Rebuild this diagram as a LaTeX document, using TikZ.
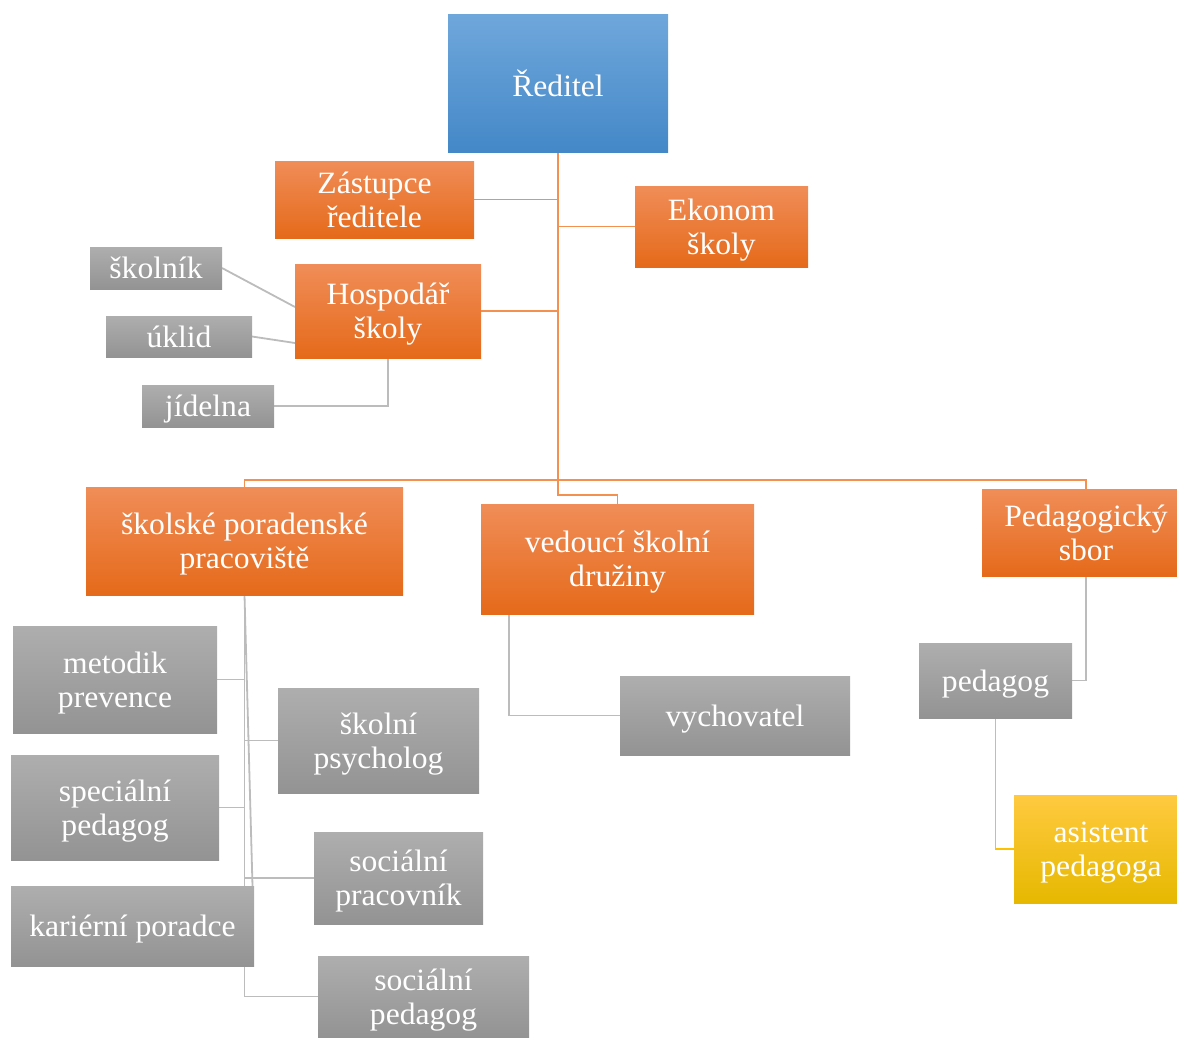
\documentclass[tikz,border=0pt]{standalone}
\usepackage{fontspec}
\setmainfont{Liberation Serif}[FakeStretch=1.02]
\usetikzlibrary{backgrounds}
\definecolor{oTop}{RGB}{240,141,88}
\definecolor{oMid}{RGB}{243,124,42}
\definecolor{oBot}{RGB}{229,106,26}
\definecolor{bTop}{RGB}{111,167,219}
\definecolor{bMid}{RGB}{88,157,219}
\definecolor{bBot}{RGB}{68,136,200}
\definecolor{gTop}{RGB}{174,174,174}
\definecolor{gBot}{RGB}{147,147,147}
\definecolor{yTop}{RGB}{255,202,64}
\definecolor{yMid}{RGB}{255,196,0}
\definecolor{yBot}{RGB}{230,184,0}
\definecolor{oLine}{RGB}{244,145,80}
\definecolor{gLine}{RGB}{188,188,188}
\definecolor{yLine}{RGB}{255,192,0}
\tikzset{
  box/.style={rectangle, inner sep=0pt, outer sep=0pt, text=white, align=center,
    text depth=0pt, font=\fontsize{31}{34}\selectfont},
  obox/.style={box, top color=oTop, middle color=oMid, bottom color=oBot},
  bbox/.style={box, top color=bTop, middle color=bMid, bottom color=bBot},
  gbox/.style={box, top color=gTop, bottom color=gBot},
  ybox/.style={box, top color=yTop, middle color=yMid, bottom color=yBot},
  oline/.style={draw=oLine, line width=1.8pt},
  gline/.style={draw=gLine, line width=1.8pt},
  yline/.style={draw=yLine, line width=1.8pt},
}
\begin{document}
\begin{tikzpicture}[x=1pt,y=-1pt]
\useasboundingbox (0,0) rectangle (1177,1037);
\clip (0,0) rectangle (1177,1037);
\node[bbox, minimum width=220pt, minimum height=138pt] (red) at (558,83) {Ředitel};
\node[obox, minimum width=199pt, minimum height=77pt] (zast) at (374.5,199.5) {Zástupce\\ředitele};
\node[obox, minimum width=173pt, minimum height=81pt] (ekon) at (721.5,226.5) {Ekonom\\školy};
\node[obox, minimum width=186pt, minimum height=94pt] (hosp) at (388,311) {Hospodář\\školy};
\node[gbox, minimum width=132pt, minimum height=42pt] (skolnik) at (156,268) {školník};
\node[gbox, minimum width=146pt, minimum height=41pt] (uklid) at (179,336.5) {úklid};
\node[gbox, minimum width=132pt, minimum height=42pt] (jid) at (208,406) {jídelna};
\node[obox, minimum width=317pt, minimum height=108pt] (skol) at (244.5,541) {školské poradenské\\pracoviště};
\node[obox, minimum width=273pt, minimum height=110pt] (ved) at (617.5,559) {vedoucí školní\\družiny};
\node[obox, minimum width=208pt, minimum height=87pt] (ped) at (1086,532.5) {Pedagogický\\sbor};
\node[gbox, minimum width=204pt, minimum height=107pt] (met) at (115,679.5) {metodik\\prevence};
\node[gbox, minimum width=201pt, minimum height=105pt] (psy) at (378.5,740.5) {školní\\psycholog};
\node[gbox, minimum width=208pt, minimum height=105pt] (spec) at (115,807.5) {speciální\\pedagog};
\node[gbox, minimum width=169pt, minimum height=92pt] (socprac) at (398.5,878) {sociální\\pracovník};
\node[gbox, minimum width=243pt, minimum height=80pt] (kar) at (132.5,926) {kariérní poradce};
\node[gbox, minimum width=211pt, minimum height=81pt] (socped) at (423.5,996.5) {sociální\\pedagog};
\node[gbox, minimum width=230pt, minimum height=79pt] (vych) at (735,715.5) {vychovatel};
\node[gbox, minimum width=153pt, minimum height=75pt] (pedag) at (995.5,680.5) {pedagog};
\node[ybox, minimum width=174pt, minimum height=108pt] (asis) at (1101,849) {asistent\\pedagoga};
\coordinate (tb) at (558,480);
\coordinate (vd) at (558,495);
\begin{scope}[on background layer]
\draw[oline] (red.south) -- (vd) -| (ved.north);
\draw[oline] (zast.east) -- (zast.east -| red.south);
\draw[oline] (ekon.west) -- (ekon.west -| red.south);
\draw[oline] (hosp.east) -- (hosp.east -| red.south);
\draw[oline] (tb) -| (skol.north);
\draw[oline] (tb) -| (ped.north);
\draw[gline] (skolnik.east) -- ([yshift=4pt]hosp.west);
\draw[gline] (uklid.east) -- ([yshift=-32pt]hosp.west);
\draw[gline] (jid.east) -| (hosp.south);
\draw[gline] (skol.south) |- (socped.west);
\draw[gline] (met.east) -- (met.east -| skol.south);
\draw[gline] (psy.west) -- (psy.west -| skol.south);
\draw[gline] (spec.east) -- (spec.east -| skol.south);
\draw[gline] (socprac.west) -- (socprac.west -| skol.south);
\draw[gline] (skol.south) -- ([xshift=120pt]kar.north);
\draw[gline] ([xshift=-108.5pt]ved.south) |- (vych.west);
\draw[gline] (ped.south) |- (pedag.east);
\draw[yline] (pedag.south) |- (asis.west);
\end{scope}
\end{tikzpicture}
\end{document}
